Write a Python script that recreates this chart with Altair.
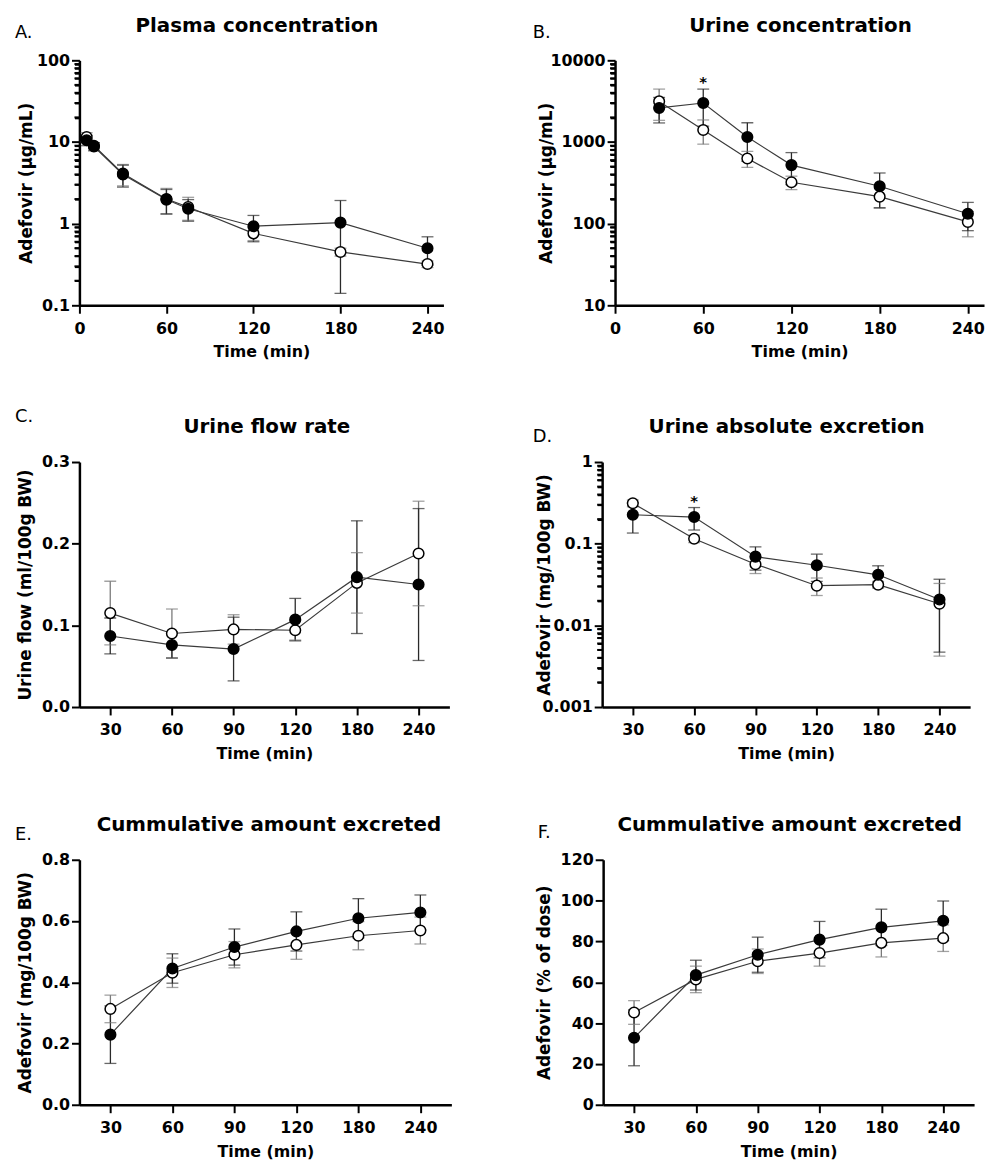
import altair as alt
import pandas as pd

FONT = "DejaVu Sans"

# ---------------- data ----------------
# A. Plasma concentration (µg/mL)
a_time = [5, 10, 30, 60, 75, 120, 180, 240]
a_filled = [10.5, 8.8, 4.0, 1.97, 1.52, 0.93, 1.03, 0.50]
a_filled_sd = [1.5, 1.0, 1.2, 0.65, 0.45, 0.33, 0.89, 0.19]
a_open = [11.5, 9.0, 4.1, 2.0, 1.6, 0.76, 0.45, 0.32]
a_open_sd = [1.5, 0.8, 1.2, 0.7, 0.5, 0.14, 0.05, 0.03]

# time points of urine collections (panels B-F)
u_time = [30, 60, 90, 120, 180, 240]

# B. Urine concentration (µg/mL)
b_filled = [2610, 3000, 1150, 521, 287, 132]
b_filled_sd = [900, 1440, 570, 220, 130, 50]
b_open = [3140, 1400, 628, 321, 214, 105]
b_open_sd = [1300, 460, 140, 60, 60, 36]
b_star = [60]

# C. Urine flow rate (ml/100g BW)
c_filled = [0.087, 0.076, 0.071, 0.107, 0.159, 0.150]
c_filled_sd = [0.022, 0.016, 0.039, 0.026, 0.069, 0.093]
c_open = [0.115, 0.090, 0.095, 0.094, 0.152, 0.188]
c_open_sd = [0.039, 0.030, 0.018, 0.012, 0.037, 0.064]

# D. Urine absolute excretion (mg/100g BW)
d_filled = [0.226, 0.212, 0.0694, 0.0545, 0.0416, 0.0207]
d_filled_sd = [0.091, 0.065, 0.022, 0.020, 0.012, 0.016]
d_open = [0.313, 0.115, 0.0561, 0.0306, 0.0315, 0.0184]
d_open_sd = [0.030, 0.012, 0.013, 0.0074, 0.003, 0.0142]
d_star = [60]

# E. Cumulative amount excreted (mg/100g BW)
e_filled = [0.229, 0.445, 0.515, 0.566, 0.609, 0.628]
e_filled_sd = [0.094, 0.048, 0.059, 0.064, 0.064, 0.057]
e_open = [0.313, 0.431, 0.490, 0.522, 0.552, 0.569]
e_open_sd = [0.045, 0.048, 0.043, 0.047, 0.046, 0.044]

# F. Cumulative amount excreted (% of dose)
f_filled = [32.8, 63.5, 73.5, 80.9, 86.9, 90.1]
f_filled_sd = [13.7, 7.3, 8.6, 8.9, 8.9, 9.7]
f_open = [45.2, 61.4, 70.3, 74.3, 79.3, 81.6]
f_open_sd = [5.8, 6.5, 6.0, 6.4, 6.9, 6.5]

# axis tick values (major ticks labelled; minor ticks 2..9 per decade)
a_major = [0.1, 1, 10, 100]
b_major = [10, 100, 1000, 10000]
d_major = [0.001, 0.01, 0.1, 1]
a_minor = [round(m * 10.0 ** k, 6) for k in range(-1, 2) for m in range(2, 10)]
b_minor = [round(m * 10.0 ** k, 6) for k in range(1, 4) for m in range(2, 10)]
d_minor = [round(m * 10.0 ** k, 6) for k in range(-3, 0) for m in range(2, 10)]
c_ticks = [0.0, 0.1, 0.2, 0.3]
e_ticks = [0.0, 0.2, 0.4, 0.6, 0.8]
f_ticks = [0, 20, 40, 60, 80, 100, 120]
time_ticks = [0, 60, 120, 180, 240]

MAJOR = "abs(log(datum.value)/LN10 - round(log(datum.value)/LN10)) < 0.001"


def panel(times, fm, fs, om, os_, *, letter, title, ytitle, log, ydomain, yvalues,
          yformat, xcat, w, h, label_xy, title_cx, title_x, anchor, minor=(), stars=()):
    rows = []
    for g, m, s in (("open", om, os_), ("filled", fm, fs)):
        for t, mv, sv in zip(times, m, s):
            rows.append({"t": t, "grp": g, "mean": mv, "lo": mv - sv, "hi": mv + sv})
    df = pd.DataFrame(rows)

    if xcat:
        xenc = alt.X("t:O", scale=alt.Scale(type="point", padding=0.5),
                     axis=alt.Axis(title="Time (min)", labelAngle=0))
    else:
        xenc = alt.X("t:Q", scale=alt.Scale(domain=[0, 251], nice=False, zero=False),
                     axis=alt.Axis(title="Time (min)", values=time_ticks, labelFlush=False))

    if log:
        yscale = alt.Scale(type="log", domain=ydomain, nice=False)
        yaxis = alt.Axis(title=ytitle, values=sorted(list(yvalues) + list(minor)),
                         titleX=title_x, format="~g", labelOverlap=False,
                         labelExpr=f"{MAJOR} ? datum.label : ''",
                         tickSize={"condition": {"test": MAJOR, "value": 8}, "value": 5})
    else:
        yscale = alt.Scale(domain=ydomain, nice=False, zero=True)
        yaxis = alt.Axis(title=ytitle, values=yvalues, titleX=title_x, format=yformat,
                         labelOverlap=False)

    def Y(field):
        return alt.Y(field, scale=yscale, axis=yaxis)

    ecol = alt.Color("grp:N", scale=alt.Scale(domain=["filled", "open"],
                                              range=["#2a2a2a", "#7a7a7a"]), legend=None)
    base = alt.Chart(df)
    err = base.mark_rule(strokeWidth=1.3).encode(x=xenc, y=Y("lo:Q"), y2="hi:Q", color=ecol)
    cap_lo = base.mark_tick(orient="horizontal", size=12, thickness=1.3).encode(
        x=xenc, y=Y("lo:Q"), color=ecol)
    cap_hi = base.mark_tick(orient="horizontal", size=12, thickness=1.3).encode(
        x=xenc, y=Y("hi:Q"), color=ecol)
    line = base.mark_line(color="#3a3a3a", strokeWidth=1.2).encode(
        x=xenc, y=Y("mean:Q"), detail="grp:N")
    pts = base.mark_point(filled=True, shape="circle", size=115, opacity=1,
                          stroke="black", strokeWidth=1.5).encode(
        x=xenc, y=Y("mean:Q"),
        fill=alt.Fill("grp:N", scale=alt.Scale(domain=["filled", "open"],
                                               range=["black", "white"]), legend=None))
    layers = []

    if minor:
        mdf = pd.DataFrame({"v": list(minor)})
        mt = alt.Chart(mdf).mark_tick(
            orient="horizontal", size=5, thickness=2, color="black", opacity=1).encode(
            x=alt.value(-2.5), y=Y("v:Q"))
        layers.append(mt)

    layers += [err, cap_lo, cap_hi, line, pts]

    if stars:
        sdf = df[(df.grp == "filled") & (df.t.isin(stars))]
        star = alt.Chart(sdf).mark_text(text="*", font=FONT, fontSize=15, fontWeight="bold",
                                        baseline="alphabetic", dy=-2, color="black").encode(
            x=xenc, y=Y("hi:Q"))
        layers.append(star)

    lab = alt.Chart(pd.DataFrame({"s": [letter]})).mark_text(
        font=FONT, fontSize=18, align="left", baseline="alphabetic", color="black").encode(
        text="s:N", x=alt.value(label_xy[0]), y=alt.value(label_xy[1]))
    ttl = alt.Chart(pd.DataFrame({"s": [title]})).mark_text(
        font=FONT, fontSize=20, fontWeight="bold", align="center", baseline="alphabetic",
        color="black").encode(text="s:N", x=alt.value(title_cx), y=alt.value(-29))
    xl, xr, yt, yb = anchor
    anch = alt.Chart(pd.DataFrame({"s": [0]})).mark_rule(opacity=0).encode(
        x=alt.value(xl), x2=alt.value(xr), y=alt.value(yt), y2=alt.value(yb))
    layers += [lab, ttl, anch]
    return alt.layer(*layers).properties(width=w, height=h)


H = 247
pA = panel(a_time, a_filled, a_filled_sd, a_open, a_open_sd, letter="A.",
           title="Plasma concentration", ytitle="Adefovir (µg/mL)", log=True,
           ydomain=[0.1, 100], yvalues=a_major, yformat=None, xcat=False,
           w=367, h=H, label_xy=(-65, -22), title_cx=179, title_x=-44,
           anchor=(-70, 390, -48, H + 62.5), minor=a_minor)
pB = panel(u_time, b_filled, b_filled_sd, b_open, b_open_sd, letter="B.",
           title="Urine concentration", ytitle="Adefovir (µg/mL)", log=True,
           ydomain=[10, 10000], yvalues=b_major, yformat=None, xcat=False,
           w=372, h=H, label_xy=(-83, -22), title_cx=187, title_x=-60,
           anchor=(-130, 372, -48, H + 62.5), minor=b_minor, stars=b_star)
pC = panel(u_time, c_filled, c_filled_sd, c_open, c_open_sd, letter="C.",
           title="Urine flow rate", ytitle="Urine flow (ml/100g BW)", log=False,
           ydomain=[0, 0.3], yvalues=c_ticks, yformat=".1f", xcat=True,
           w=373, h=H, label_xy=(-65, -40), title_cx=189, title_x=-45,
           anchor=(-70, 390, -60, H + 58.5))
pD = panel(u_time, d_filled, d_filled_sd, d_open, d_open_sd, letter="D.",
           title="Urine absolute excretion", ytitle="Adefovir (mg/100g BW)", log=True,
           ydomain=[0.001, 1], yvalues=d_major, yformat=None, xcat=True,
           w=371, h=H, label_xy=(-70, -20), title_cx=186, title_x=-49,
           anchor=(-117, 371, -60, H + 58.5), minor=d_minor, stars=d_star)
pE = panel(u_time, e_filled, e_filled_sd, e_open, e_open_sd, letter="E.",
           title="Cummulative amount excreted", ytitle="Adefovir (mg/100g BW)", log=False,
           ydomain=[0, 0.8], yvalues=e_ticks, yformat=".1f", xcat=True,
           w=375, h=H, label_xy=(-65, -20), title_cx=191, title_x=-45,
           anchor=(-70, 390, -60, H + 40))
pF = panel(u_time, f_filled, f_filled_sd, f_open, f_open_sd, letter="F.",
           title="Cummulative amount excreted", ytitle="Adefovir (% of dose)", log=False,
           ydomain=[0, 120], yvalues=f_ticks, yformat="d", xcat=True,
           w=374, h=H, label_xy=(-66, -22), title_cx=188, title_x=-50,
           anchor=(-118, 374, -60, H + 40))

chart = alt.concat(
    pA, pB, pC, pD, pE, pF,
    columns=2, spacing={"row": 35, "column": 20}, align="none",
).properties(
    padding={"left": 2, "top": 0, "right": 2, "bottom": 2},
    background="white",
).configure_view(
    stroke=None
).configure_axis(
    domainColor="black", domainWidth=2.5, tickColor="black", tickWidth=2, tickSize=8,
    labelFont=FONT, labelFontSize=16, labelFontWeight="bold", labelColor="black",
    titleFont=FONT, titleFontWeight="bold", titleColor="black", grid=False,
).configure_axisX(
    labelPadding=7, titlePadding=8, titleFontSize=16
).configure_axisY(
    labelPadding=2, titleFontSize=17
)

chart.save("out.html", embed_options={"renderer": "svg", "actions": False})
